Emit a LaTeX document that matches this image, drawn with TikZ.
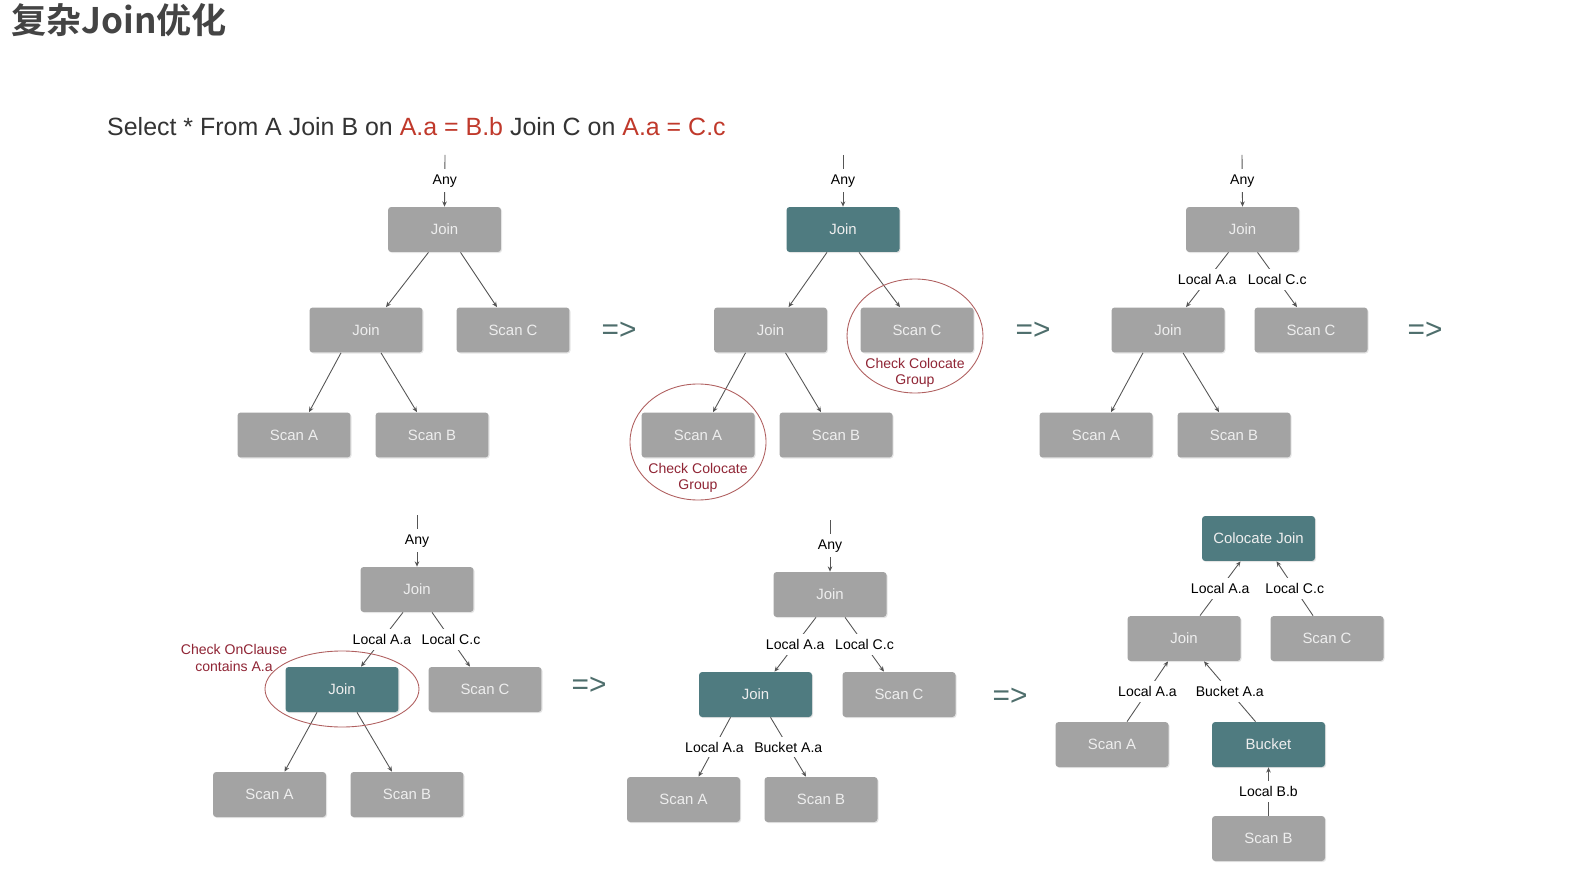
\documentclass[tikz,border=0pt]{standalone}
\usepackage{fontspec}
\setmainfont{Liberation Sans}
\newfontfamily\cjktitle{Noto Sans CJK SC Bold}
\usetikzlibrary{arrows.meta,calc,shadows}

\definecolor{boxgray}{HTML}{A3A3A3}
\definecolor{boxteal}{HTML}{4F7B80}
\definecolor{boxtext}{HTML}{EEEEEE}
\definecolor{linegray}{HTML}{555555}
\definecolor{ringred}{HTML}{B06060}
\definecolor{notered}{HTML}{902535}
\definecolor{qred}{HTML}{C0392B}
\definecolor{thengreen}{HTML}{4E6E6C}
\definecolor{titlegray}{HTML}{444444}

\begin{document}
\begin{tikzpicture}[
        x=0.02cm,
        y=-0.02cm,
        box/.style={
            rectangle,
            rounded corners=1.8pt,
            minimum width=2.26cm,
            minimum height=0.9cm,
            inner sep=0pt,
            fill=boxgray,
            text=boxtext,
            drop shadow={opacity=0.2, shadow xshift=0.6pt, shadow yshift=-0.6pt},
            font=\fontsize{8.5}{10}\selectfont,
        },
        hot/.style={
            fill=boxteal,
        },
        edge/.style={
            draw=linegray,
            line width=0.5pt,
            -{Stealth[length=3pt,width=2.6pt]},
        },
        lbl/.style={
            fill=white,
            inner xsep=1pt,
            inner ysep=3pt,
            text=black,
            font=\fontsize{8}{9}\selectfont,
        },
        ring/.style={
            draw=ringred,
            line width=0.5pt,
        },
        note/.style={
            text=notered,
            align=center,
            font=\fontsize{8}{9.5}\selectfont,
        },
        then/.style={
            text=thengreen,
            font=\fontsize{17}{17}\selectfont,
        },
    ]
        \fill[white] (0,0) rectangle (1584,881);
        \useasboundingbox (0,0) rectangle (1584,881);

        \node [anchor=west, text=titlegray, font=\cjktitle\fontsize{20}{20}\selectfont] (title) at (5,20) {复杂Join优化};
        \node [anchor=west, text=black!80, font=\fontsize{14.2}{14.2}\selectfont] (query) at (101,127)
            {Select * From A Join B on \textcolor{qred}{A.a = B.b} Join C on \textcolor{qred}{A.a = C.c}};

        % tree 1
        \coordinate (a1) at (445,155);
        \node [box] (j1) at (444.5,229.5) {Join};
        \node [box] (k1) at (366,330) {Join};
        \node [box] (c1) at (513,330) {Scan C};
        \node [box] (sa1) at (294,435) {Scan A};
        \node [box] (sb1) at (432,435) {Scan B};
        \draw [edge] (a1) -- node [lbl] {Any} (j1.north);
        \draw [edge] ($(j1.south)+(-16,0)$) -- ($(k1.north)+(20,0)$);
        \draw [edge] ($(j1.south)+(16,0)$) -- ($(c1.north)+(-16,0)$);
        \draw [edge] ($(k1.south)+(-25,0)$) -- ($(sa1.north)+(15,0)$);
        \draw [edge] ($(k1.south)+(15,0)$) -- ($(sb1.north)+(-15,0)$);

        \node [then] (then1) at (619,331) {=>};

        % tree 2
        \coordinate (a2) at (843,155);
        \node [box, hot] (j2) at (843,229.5) {Join};
        \node [box] (k2) at (770.5,330) {Join};
        \node [box] (c2) at (917,330) {Scan C};
        \node [box] (sa2) at (698,435) {Scan A};
        \node [box] (sb2) at (836,435) {Scan B};
        \draw [edge] (a2) -- node [lbl] {Any} (j2.north);
        \draw [edge] ($(j2.south)+(-16,0)$) -- ($(k2.north)+(18,0)$);
        \draw [edge] ($(j2.south)+(16,0)$) -- ($(c2.north)+(-17,0)$);
        \draw [edge] ($(k2.south)+(-25,0)$) -- ($(sa2.north)+(15,0)$);
        \draw [edge] ($(k2.south)+(15,0)$) -- ($(sb2.north)+(-15,0)$);
        \draw [ring] (915,336) ellipse [x radius=68, y radius=57];
        \draw [ring] (698,442) ellipse [x radius=68, y radius=58];
        \node [note] (n2c) at (915,373) {Check Colocate\\Group};
        \node [note] (n2a) at (698,478) {Check Colocate\\Group};

        \node [then] (then2) at (1033,331) {=>};

        % tree 3
        \coordinate (a3) at (1242,155);
        \node [box] (j3) at (1242.5,229.5) {Join};
        \node [box] (k3) at (1168,330) {Join};
        \node [box] (c3) at (1311,330) {Scan C};
        \node [box] (sa3) at (1096,435) {Scan A};
        \node [box] (sb3) at (1234,435) {Scan B};
        \draw [edge] (a3) -- node [lbl] {Any} (j3.north);
        \draw [edge] ($(j3.south)+(-14,0)$) -- node [lbl] {Local A.a} ($(k3.north)+(18,0)$);
        \draw [edge] ($(j3.south)+(15,0)$) -- node [lbl] {Local C.c} ($(c3.north)+(-14,0)$);
        \draw [edge] ($(k3.south)+(-25,0)$) -- ($(sa3.north)+(15,0)$);
        \draw [edge] ($(k3.south)+(15,0)$) -- ($(sb3.north)+(-15,0)$);

        \node [then] (then3) at (1425,331) {=>};

        % tree 4
        \coordinate (a4) at (417,515);
        \node [box] (j4) at (417,589.5) {Join};
        \node [box, hot] (k4) at (342,689.5) {Join};
        \node [box] (c4) at (485,689.5) {Scan C};
        \node [box] (sa4) at (269.5,794.5) {Scan A};
        \node [box] (sb4) at (407,794.5) {Scan B};
        \draw [edge] (a4) -- node [lbl] {Any} (j4.north);
        \draw [edge] ($(j4.south)+(-14,0)$) -- node [lbl] {Local A.a} ($(k4.north)+(19,0)$);
        \draw [edge] ($(j4.south)+(15,0)$) -- node [lbl] {Local C.c} ($(c4.north)+(-15,0)$);
        \draw [edge] ($(k4.south)+(-25,0)$) -- ($(sa4.north)+(15,0)$);
        \draw [edge] ($(k4.south)+(15,0)$) -- ($(sb4.north)+(-15,0)$);
        \draw [ring] (342,689) ellipse [x radius=77, y radius=38];
        \node [note] (n4) at (234,658) {Check OnClause\\contains A.a};

        \node [then] (then4) at (589,686) {=>};

        % tree 5
        \coordinate (a5) at (830,520);
        \node [box] (j5) at (830,594.5) {Join};
        \node [box, hot] (k5) at (755.5,694.5) {Join};
        \node [box] (c5) at (899,694.5) {Scan C};
        \node [box] (sa5) at (683.5,799.5) {Scan A};
        \node [box] (sb5) at (821,799.5) {Scan B};
        \draw [edge] (a5) -- node [lbl] {Any} (j5.north);
        \draw [edge] ($(j5.south)+(-14,0)$) -- node [lbl] {Local A.a} ($(k5.north)+(19,0)$);
        \draw [edge] ($(j5.south)+(15,0)$) -- node [lbl] {Local C.c} ($(c5.north)+(-15,0)$);
        \draw [edge] ($(k5.south)+(-25,0)$) -- node [lbl] {Local A.a} ($(sa5.north)+(15,0)$);
        \draw [edge] ($(k5.south)+(15,0)$) -- node [lbl] {Bucket A.a} ($(sb5.north)+(-15,0)$);

        \node [then] (then5) at (1010,697) {=>};

        % tree 6
        \node [box, hot] (cj) at (1258.5,538.5) {Colocate Join};
        \node [box] (j6) at (1184,638.5) {Join};
        \node [box] (c6) at (1327,638.5) {Scan C};
        \node [box] (sa6) at (1112,744.5) {Scan A};
        \node [box, hot] (bk) at (1268.5,744.5) {Bucket};
        \node [box] (sb6) at (1268.5,838.5) {Scan B};
        \draw [edge] ($(j6.north)+(16,0)$) -- node [lbl] {Local A.a} ($(cj.south)+(-18,0)$);
        \draw [edge] ($(c6.north)+(-14,0)$) -- node [lbl] {Local C.c} ($(cj.south)+(18,0)$);
        \draw [edge] ($(sa6.north)+(15,0)$) -- node [lbl] {Local A.a} ($(j6.south)+(-16,0)$);
        \draw [edge] ($(bk.north)+(-13,0)$) -- node [lbl] {Bucket A.a} ($(j6.south)+(20,0)$);
        \draw [edge] (sb6.north) -- node [lbl] {Local B.b} (bk.south);
    \end{tikzpicture}
\end{document}
